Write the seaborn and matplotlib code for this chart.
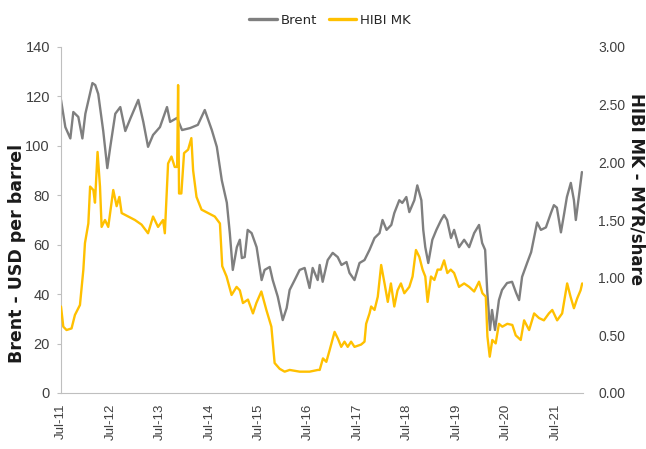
import matplotlib
matplotlib.use("Agg")
import matplotlib.pyplot as plt
import matplotlib.dates as mdates
from matplotlib.lines import Line2D
from matplotlib.ticker import FormatStrFormatter, MultipleLocator
import pandas as pd
import seaborn as sns

brent_dates = [
    "2011-07-01", "2011-08-02", "2011-09-08", "2011-09-30", "2011-11-06", "2011-12-06", "2011-12-28",
    "2012-02-18", "2012-03-10", "2012-04-01", "2012-05-08", "2012-06-07", "2012-06-29", "2012-08-05",
    "2012-09-11", "2012-10-18", "2012-11-24", "2013-01-22", "2013-02-28", "2013-04-04", "2013-05-11",
    "2013-07-01", "2013-08-22", "2013-09-14", "2013-11-04", "2013-12-11", "2014-02-09", "2014-04-07",
    "2014-05-28", "2014-07-19", "2014-08-25", "2014-10-01", "2014-11-07", "2014-11-29", "2014-12-21",
    "2015-01-20", "2015-02-11", "2015-02-26", "2015-03-19", "2015-04-10", "2015-05-09", "2015-06-15",
    "2015-07-22", "2015-08-13", "2015-09-20", "2015-10-12", "2015-11-18", "2015-12-25", "2016-01-23",
    "2016-02-14", "2016-03-22", "2016-04-28", "2016-06-04", "2016-07-10", "2016-08-02", "2016-09-08",
    "2016-09-23", "2016-10-15", "2016-11-21", "2016-12-28", "2017-02-03", "2017-03-03", "2017-04-09",
    "2017-05-01", "2017-06-07", "2017-07-14", "2017-08-20", "2017-09-26", "2017-11-02", "2017-12-09",
    "2017-12-31", "2018-01-30", "2018-03-06", "2018-03-28", "2018-05-04", "2018-05-26", "2018-06-25",
    "2018-07-17", "2018-08-23", "2018-09-14", "2018-10-14", "2018-10-28", "2018-11-12", "2018-12-04",
    "2019-01-03", "2019-02-02", "2019-03-09", "2019-03-31", "2019-04-22", "2019-05-21", "2019-06-13",
    "2019-07-19", "2019-08-26", "2019-10-02", "2019-11-08", "2019-12-14", "2020-01-06", "2020-01-28",
    "2020-02-12", "2020-03-04", "2020-03-19", "2020-04-10", "2020-05-09", "2020-06-01", "2020-07-08",
    "2020-08-14", "2020-09-13", "2020-10-05", "2020-10-27", "2020-12-03", "2021-01-02", "2021-01-24",
    "2021-02-15", "2021-03-15", "2021-04-21", "2021-05-28", "2021-06-19", "2021-07-11", "2021-08-10",
    "2021-09-01", "2021-09-23", "2021-10-22", "2021-11-14", "2021-11-28", "2021-12-20", "2022-01-12",
]
brent_values = [
    118.6, 107.6, 103.0, 113.7, 111.7, 103.0, 113.0,
    125.4, 124.6, 121.0, 106.0, 91.0, 99.6, 113.0,
    115.7, 106.0, 111.0, 118.6, 109.7, 99.6, 104.4,
    107.6, 115.7, 109.7, 111.3, 106.4, 107.2, 108.5,
    114.5, 106.4, 99.6, 86.0, 77.0, 64.7, 49.8,
    59.0, 62.0, 54.6, 55.0, 66.0, 64.7, 59.0,
    45.7, 49.8, 51.0, 45.7, 39.0, 29.5, 34.4,
    41.7, 45.7, 49.8, 50.6, 42.5, 50.6, 45.7,
    51.8, 45.0, 53.8, 56.7, 55.0, 51.8, 53.0,
    48.6, 45.7, 52.6, 53.8, 57.9, 62.7, 64.7,
    70.0, 66.0, 68.0, 72.8, 78.0, 76.9, 79.3,
    73.2, 78.0, 84.0, 78.0, 66.0, 59.0, 52.6,
    62.0, 66.0, 70.0, 72.0, 70.0, 62.7, 66.0,
    59.0, 62.0, 59.0, 64.7, 68.0, 60.7, 57.9,
    41.7, 25.5, 33.6, 25.5, 37.6, 41.7, 44.5,
    45.0, 40.5, 37.6, 47.0, 52.6, 57.0, 63.0,
    69.0, 66.0, 67.0, 72.8, 76.0, 75.0, 65.0,
    72.0, 79.3, 85.0, 78.0, 70.0, 79.3, 89.4,
]

hibi_dates = [
    "2011-07-01", "2011-07-18", "2011-08-11", "2011-09-17", "2011-10-12", "2011-11-18", "2011-12-13",
    "2011-12-25", "2012-01-19", "2012-02-01", "2012-02-25", "2012-03-08", "2012-03-27", "2012-04-14",
    "2012-04-26", "2012-05-21", "2012-06-14", "2012-07-21", "2012-08-15", "2012-09-04", "2012-09-21",
    "2012-11-09", "2012-12-28", "2013-02-15", "2013-04-04", "2013-05-11", "2013-06-17", "2013-07-24",
    "2013-08-06", "2013-08-30", "2013-09-24", "2013-10-18", "2013-11-05", "2013-11-12", "2013-11-19",
    "2013-12-06", "2013-12-26", "2014-01-25", "2014-02-18", "2014-03-03", "2014-03-28", "2014-05-04",
    "2014-06-22", "2014-08-10", "2014-09-17", "2014-10-04", "2014-11-05", "2014-12-12", "2015-01-18",
    "2015-02-11", "2015-03-06", "2015-04-12", "2015-05-19", "2015-06-13", "2015-07-20", "2015-08-26",
    "2015-10-02", "2015-10-26", "2015-12-02", "2016-01-08", "2016-02-14", "2016-04-28", "2016-07-10",
    "2016-09-10", "2016-09-23", "2016-10-17", "2016-11-11", "2016-12-05", "2017-01-11", "2017-02-05",
    "2017-03-01", "2017-03-25", "2017-04-18", "2017-05-13", "2017-06-07", "2017-07-26", "2017-08-20",
    "2017-09-01", "2017-09-26", "2017-10-08", "2017-11-02", "2017-11-26", "2017-12-21", "2018-01-15",
    "2018-02-08", "2018-03-03", "2018-03-28", "2018-04-21", "2018-05-16", "2018-06-10", "2018-07-17",
    "2018-08-10", "2018-09-04", "2018-09-29", "2018-10-23", "2018-11-12", "2018-11-29", "2018-12-24",
    "2019-01-18", "2019-02-11", "2019-03-07", "2019-03-31", "2019-04-24", "2019-05-19", "2019-06-13",
    "2019-07-19", "2019-08-26", "2019-10-02", "2019-11-08", "2019-12-14", "2020-01-08", "2020-02-02",
    "2020-02-14", "2020-03-02", "2020-03-21", "2020-04-15", "2020-05-09", "2020-06-03", "2020-07-10",
    "2020-08-16", "2020-09-10", "2020-10-17", "2020-11-11", "2020-12-18", "2021-01-24", "2021-03-01",
    "2021-04-06", "2021-05-13", "2021-06-07", "2021-07-13", "2021-08-19", "2021-09-25", "2021-10-20",
    "2021-11-14", "2021-12-08", "2022-01-02", "2022-01-14",
]
hibi_values = [
    0.75, 0.575, 0.546, 0.56, 0.677, 0.763, 1.067,
    1.30, 1.47, 1.79, 1.76, 1.65, 2.09, 1.79,
    1.44, 1.50, 1.44, 1.76, 1.62, 1.70, 1.56,
    1.53, 1.50, 1.46, 1.385, 1.53, 1.44, 1.50,
    1.385, 1.99, 2.05, 1.96, 1.96, 2.67, 1.73,
    1.73, 2.08, 2.11, 2.21, 1.93, 1.70, 1.59,
    1.56, 1.53, 1.47, 1.10, 1.01, 0.85, 0.92,
    0.89, 0.78, 0.81, 0.69, 0.78, 0.88, 0.72,
    0.575, 0.26, 0.21, 0.185, 0.20, 0.185, 0.185,
    0.20, 0.20, 0.30, 0.27, 0.37, 0.53, 0.47,
    0.40, 0.445, 0.40, 0.445, 0.40, 0.42, 0.445,
    0.60, 0.69, 0.75, 0.72, 0.835, 1.11, 0.95,
    0.79, 0.95, 0.75, 0.89, 0.95, 0.865, 0.92,
    1.01, 1.24, 1.18, 1.07, 1.01, 0.79, 1.01,
    0.98, 1.07, 1.07, 1.15, 1.04, 1.07, 1.04,
    0.92, 0.95, 0.92, 0.88, 0.965, 0.865, 0.835,
    0.49, 0.315, 0.46, 0.43, 0.60, 0.575, 0.60,
    0.59, 0.50, 0.46, 0.63, 0.546, 0.69, 0.65,
    0.63, 0.69, 0.72, 0.63, 0.69, 0.95, 0.835,
    0.735, 0.82, 0.89, 0.95,
]

series_names = ["Brent", "HIBI MK"]
series_colors = ["#7F7F7F", "#FFC000"]
left_label = "Brent - USD per barrel"
right_label = "HIBI MK - MYR/share"

brent_df = pd.DataFrame({"date": pd.to_datetime(brent_dates), "value": brent_values})
hibi_df = pd.DataFrame({"date": pd.to_datetime(hibi_dates), "value": hibi_values})

sns.set_theme(style="white")
plt.rcParams["font.family"] = ["DejaVu Sans"]

fig = plt.figure(figsize=(6.46, 4.49), dpi=100)
ax = fig.add_axes([61 / 646, 1 - 393 / 449, (583 - 61) / 646, (393 - 47) / 449])
ax2 = ax.twinx()

sns.lineplot(data=brent_df, x="date", y="value", ax=ax, color=series_colors[0], linewidth=1.7)
sns.lineplot(data=hibi_df, x="date", y="value", ax=ax2, color=series_colors[1], linewidth=1.7)

ax.set_xlim(pd.Timestamp("2011-07-01"), pd.Timestamp("2022-01-20"))
ax.set_ylim(0, 140)
ax2.set_ylim(0, 3)
ax.yaxis.set_major_locator(MultipleLocator(20))
ax2.yaxis.set_major_locator(MultipleLocator(0.5))
ax2.yaxis.set_major_formatter(FormatStrFormatter("%.2f"))

ax.xaxis.set_major_locator(mdates.MonthLocator(bymonth=7))
ax.xaxis.set_major_formatter(mdates.DateFormatter("%b-%y"))

tick_col = "#404040"
narrow = ["Liberation Sans Narrow", "DejaVu Sans Condensed", "Liberation Sans"]
for lab in ax.get_yticklabels():
    lab.set_family(narrow)
    lab.set_fontsize(10.5)
    lab.set_color(tick_col)
for lab in ax2.get_yticklabels():
    lab.set_family(narrow)
    lab.set_fontsize(10)
    lab.set_color(tick_col)
for lab in ax.get_xticklabels():
    lab.set_family(["Liberation Sans", "DejaVu Sans"])
    lab.set_fontsize(9.5)
    lab.set_rotation(90)
    lab.set_color(tick_col)

ax.tick_params(axis="x", direction="inout", length=5, color="#BFBFBF", width=0.8, pad=5)
ax.tick_params(axis="y", direction="out", length=3, color="#BFBFBF", width=0.8, pad=5)
ax2.tick_params(axis="y", length=0, pad=11)

for a in (ax, ax2):
    for s in ("top", "right"):
        a.spines[s].set_visible(False)
ax2.spines["left"].set_visible(False)
ax2.spines["bottom"].set_visible(False)
ax.spines["left"].set_color("#BFBFBF")
ax.spines["bottom"].set_color("#BFBFBF")
ax.spines["left"].set_linewidth(0.8)
ax.spines["bottom"].set_linewidth(0.8)

ax.set_xlabel("")
ax.set_ylabel("")
ax2.set_ylabel("")
fig.text(17 / 646, 1 - 253 / 449, left_label, rotation=90, ha="center", va="center",
         fontsize=12.5, fontweight="bold", color="#1a1a1a")
fig.text(636 / 646, 1 - 189 / 449, right_label, rotation=-90, ha="center", va="center",
         fontsize=12, fontweight="bold", color="#1a1a1a")

handles = [Line2D([0], [0], color=c, lw=2.4) for c in series_colors]
fig.legend(handles, series_names, loc="center", bbox_to_anchor=(330 / 646, 1 - 20 / 449), ncol=2,
           frameon=False, fontsize=9.5, handlelength=2.1, handletextpad=0.25, columnspacing=0.9)

fig.savefig("out.png", dpi=100)
